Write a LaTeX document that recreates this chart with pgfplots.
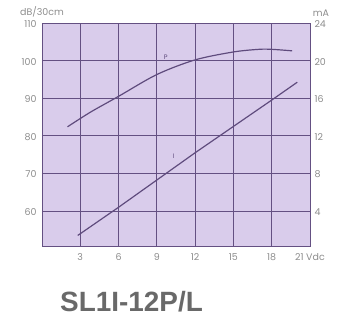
\documentclass[border=0pt]{standalone}
\usepackage{pgfplots}
\pgfplotsset{compat=1.18}
\usepackage{fontspec}
\setmainfont{Poppins}
\newfontfamily\titlefont{Liberation Sans}
\definecolor{bg}{RGB}{217,204,235}
\definecolor{gridc}{RGB}{100,80,130}
\definecolor{curve}{RGB}{95,75,125}
\definecolor{lab}{RGB}{140,140,140}
\definecolor{ttl}{RGB}{105,105,105}
\begin{document}
\begin{tikzpicture}
\useasboundingbox (-42bp,-72bp) rectangle (302bp,246bp);
\begin{axis}[name=ax, at={(0,0)}, anchor=south west, scale only axis,
  width=268bp, height=223bp,
  xmin=0, xmax=21, ymin=50.7, ymax=110,
  xtick={3,6,9,12,15,18,21}, xticklabels={3,6,9,12,15,18,21 Vdc},
  ytick={60,70,80,90,100,110},
  grid=major, major grid style={gridc, line width=1.0pt},
  axis line style={gridc, line width=1.0pt},
  axis background/.style={fill=bg},
  tick style={draw=none},
  tick label style={font=\fontsize{9.5}{10}\selectfont, text=lab},
  xticklabel style={yshift=-4bp},
  yticklabel style={xshift=-2bp, yshift=-1bp},
  /pgf/number format/assume math mode=true,
  clip=false]
\addplot[curve, line width=1.2pt, smooth] coordinates {
  (2,82.4) (3,84.6) (4,86.7) (6,90.5) (9,96.3) (12,100.2) (15,102.3) (17,103.0) (18,103.0) (19.6,102.6)};
\node[text=curve, font=\fontsize{6.5}{7}\selectfont] at (axis cs:9.7,100.8) {P};
\node[text=curve, font=\fontsize{6.5}{7}\selectfont] at (axis cs:10.3,74.5) {I};
\end{axis}
\begin{axis}[at={(0,0)}, anchor=south west, scale only axis,
  width=268bp, height=223bp,
  xmin=0, xmax=21, ymin=0.28, ymax=24,
  axis x line=none, axis y line*=right,
  ytick={4,8,12,16,20,24},
  axis line style={gridc, line width=1.0pt},
  tick style={draw=none},
  tick label style={font=\fontsize{9.5}{10}\selectfont, text=lab},
  yticklabel style={xshift=1bp, yshift=-1bp},
  /pgf/number format/assume math mode=true]
\addplot[curve, line width=1.2pt] coordinates {
  (2.8,1.4) (6,4.4) (9,7.3) (12,10.2) (15,13.0) (18,15.8) (20,17.7)};
\end{axis}
\node[text=lab, font=\fontsize{9.5}{10}\selectfont] at (0bp,234bp) {dB/30cm};
\node[text=lab, font=\fontsize{9.5}{10}\selectfont] at (279bp,233bp) {mA};
\node[text=ttl, font=\titlefont\bfseries\fontsize{28}{30}\selectfont] at (89.5bp,-56bp) {SL1I-12P/L};
\end{tikzpicture}
\end{document}
